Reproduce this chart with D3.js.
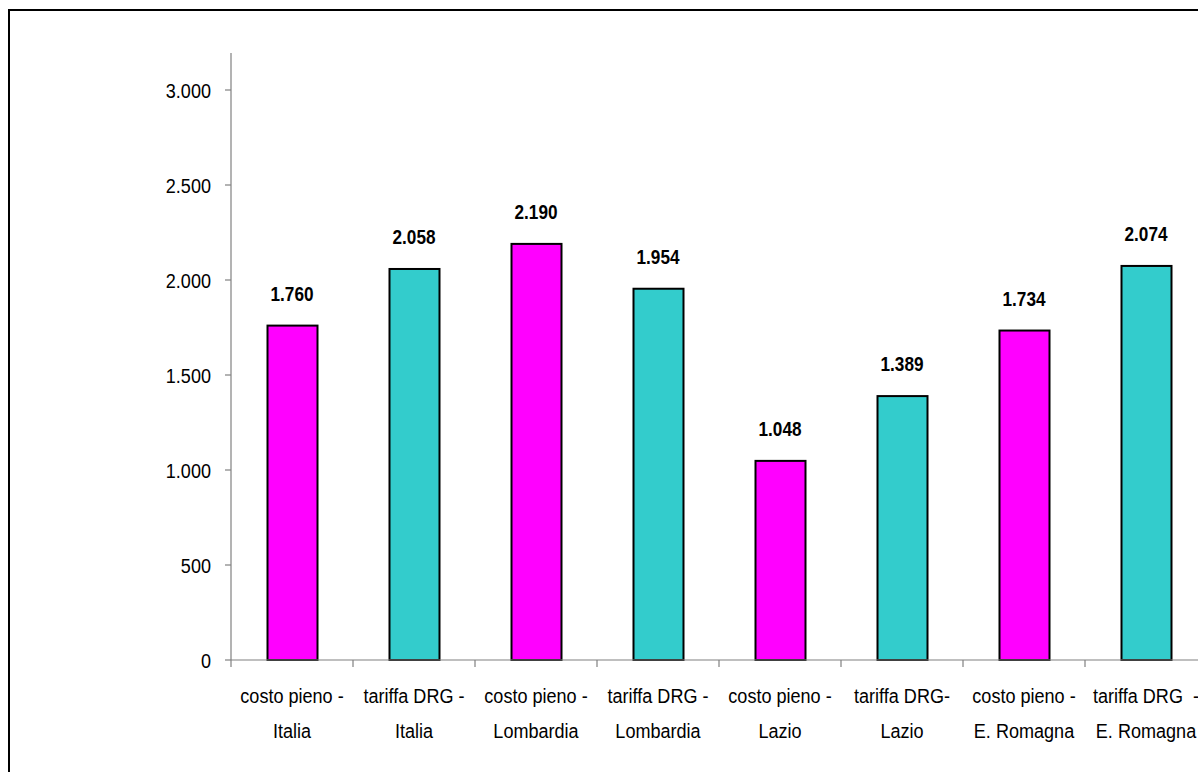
<!DOCTYPE html>
<html><head><meta charset="utf-8">
<script src="https://cdn.jsdelivr.net/npm/d3@7"></script>
<style>html,body{margin:0;padding:0;background:#fff;overflow:hidden}</style>
</head><body>
<svg id="c" width="1198" height="772"></svg>
<script>
const categories = [
  ["costo pieno -","Italia"],
  ["tariffa DRG -","Italia"],
  ["costo pieno -","Lombardia"],
  ["tariffa DRG -","Lombardia"],
  ["costo pieno -","Lazio"],
  ["tariffa DRG-","Lazio"],
  ["costo pieno -","E. Romagna"],
  ["tariffa DRG  -","E. Romagna"]
];
const values = [1760, 2058, 2190, 1954, 1048, 1389, 1734, 2074];
const valueLabels = ["1.760","2.058","2.190","1.954","1.048","1.389","1.734","2.074"];
const yTicks = [0, 500, 1000, 1500, 2000, 2500, 3000];
const yTickLabels = ["0","500","1.000","1.500","2.000","2.500","3.000"];
const colors = ["#FF00FF","#33CCCC"];

const svg = d3.select("#c");
const font = "'Liberation Sans',Arial,sans-serif";
const sx = 0.86;

// outer frame
svg.append("rect").attr("x",9).attr("y",10).attr("width",1300).attr("height",900)
  .attr("fill","none").attr("stroke","#000").attr("stroke-width",2);

const x0 = 231, y0 = 660, yTop = 53;
const x = d3.scaleBand().domain(d3.range(categories.length)).range([x0, x0 + 122*8]).paddingInner(0).paddingOuter(0);
const y = d3.scaleLinear().domain([0, 3000]).range([y0, 90]);

// y axis
const yAxis = svg.append("g").attr("transform",`translate(${x0},0)`);
yAxis.append("line").attr("x1",0).attr("x2",0).attr("y1",yTop).attr("y2",y0).attr("stroke","#808080").attr("stroke-width",1.2);
yAxis.selectAll(".t").data(yTicks).enter().append("line")
  .attr("x1",-6).attr("x2",0).attr("y1",d=>y(d)).attr("y2",d=>y(d)).attr("stroke","#808080").attr("stroke-width",1.2);
yAxis.selectAll(".l").data(yTicks).enter().append("text")
  .attr("transform",d=>`translate(-20,${y(d)+7.5}) scale(${sx},1)`)
  .attr("text-anchor","end")
  .attr("font-family",font).attr("font-size",21).attr("fill","#000")
  .text((d,i)=>yTickLabels[i]);

// bars
const bw = 50;
svg.selectAll(".bar").data(values).enter().append("rect")
  .attr("x",(d,i)=>x(i)+x.bandwidth()/2-bw/2+0.5)
  .attr("y",d=>y(d))
  .attr("width",bw).attr("height",d=>y0-y(d))
  .attr("fill",(d,i)=>colors[i%2]).attr("stroke","#000").attr("stroke-width",2);

// x axis
svg.append("line").attr("x1",x0).attr("x2",1198).attr("y1",y0).attr("y2",y0).attr("stroke","#808080").attr("stroke-width",1.2);
svg.selectAll(".xt").data(d3.range(categories.length+1)).enter().append("line")
  .attr("x1",i=>x0+i*x.step()).attr("x2",i=>x0+i*x.step()).attr("y1",y0).attr("y2",y0+7)
  .attr("stroke","#808080").attr("stroke-width",1.2);

// value labels
svg.selectAll(".vl").data(values).enter().append("text")
  .attr("transform",(d,i)=>`translate(${x(i)+x.bandwidth()/2},${y(d)-25}) scale(${sx},1)`)
  .attr("text-anchor","middle")
  .attr("font-family",font).attr("font-size",20).attr("font-weight","bold").attr("fill","#000")
  .text((d,i)=>valueLabels[i]);

// category labels
[0,1].forEach(line=>{
  svg.selectAll(".cl"+line).data(categories).enter().append("text")
    .attr("transform",(d,i)=>`translate(${x(i)+x.bandwidth()/2},${line===0?703:738}) scale(${sx},1)`)
    .attr("text-anchor","middle").attr("font-family",font).attr("font-size",21).attr("fill","#000")
    .attr("xml:space","preserve").style("white-space","pre")
    .text(d=>d[line]);
});
</script>
</body></html>
